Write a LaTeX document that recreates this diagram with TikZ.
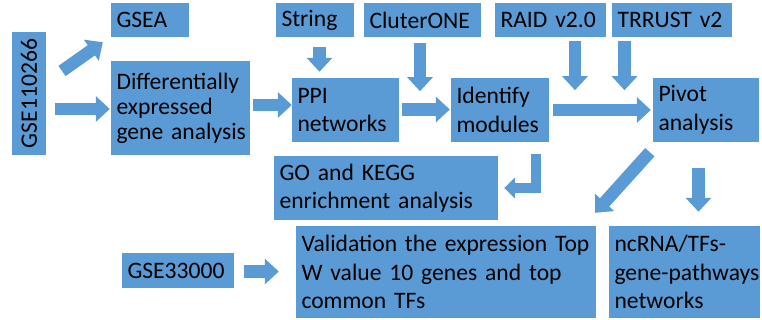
\documentclass[tikz,border=0pt]{standalone}
\usepackage{fontspec}
\setmainfont{Carlito}
\usetikzlibrary{arrows.meta}
\definecolor{boxblue}{RGB}{91,155,213}
\begin{document}
\begin{tikzpicture}[x=1pt,y=-1pt,
  box/.style={fill=boxblue, inner xsep=5.5pt, inner ysep=0pt, align=left,
    font=\fontsize{23.6}{28.5}\selectfont, text=black},
  blk/.style={draw=boxblue, line width=12.5pt, -{Triangle[width=25pt,length=14pt]}},
  bent/.style={draw=boxblue, line width=10.5pt, line join=miter, -{Triangle[width=21pt,length=11pt]}},
]
\useasboundingbox (0,0) rectangle (762,320);
% boxes
\node[box, rotate=90, minimum width=123pt, minimum height=34pt, align=center] (gse1) at (29,93.5) {GSE110266};
\node[box, minimum width=78pt, minimum height=34pt, text width=67pt] (gsea) at (150,20) {GSEA};
\node[box, minimum width=139pt, minimum height=94pt, text width=128pt, font=\fontsize{23.6}{25}\selectfont] (diff) at (180.5,108) {\mbox{Differentially}\\\mbox{expressed}\\\mbox{gene analysis}};
\node[box, minimum width=78pt, minimum height=34pt, text width=67pt] (string) at (315,20) {String};
\node[box, minimum width=117pt, minimum height=34pt, text width=106pt] (cluter) at (422.5,20) {CluterONE};
\node[box, minimum width=111pt, minimum height=34pt, text width=100pt] (raid) at (550.5,20) {\mbox{RAID v2.0}};
\node[box, minimum width=120pt, minimum height=34pt, text width=109pt] (trrust) at (672,20) {\mbox{TRRUST v2}};
\node[box, minimum width=107pt, minimum height=64pt, text width=96pt] (ppi) at (345.5,110) {PPI\\networks};
\node[box, minimum width=98pt, minimum height=64pt, text width=87pt] (ident) at (500,110) {Identify\\modules};
\node[box, minimum width=106pt, minimum height=64pt, text width=95pt] (pivot) at (706,110) {Pivot\\analysis};
\node[box, minimum width=224pt, minimum height=64pt, text width=213pt] (go) at (386,188) {\mbox{GO and KEGG}\\\mbox{enrichment analysis}};
\node[box, minimum width=112pt, minimum height=35pt, text width=101pt] (gse33) at (178,270.5) {GSE33000};
\node[box, minimum width=300pt, minimum height=92pt, text width=289pt] (valid) at (446,272) {\mbox{Validation the expression Top}\\\mbox{W value 10 genes and top}\\\mbox{common TFs}};
\node[box, minimum width=151pt, minimum height=92pt, text width=140pt] (ncrna) at (684.5,272) {\mbox{ncRNA/TFs-}\\\mbox{gene-pathways}\\networks};
% arrows
\draw[blk] ([shift={(33,-22.5)}]gse1.center) -- ([shift={(-8,5)}]gsea.south west);
\draw[blk] ([shift={(26,15.5)}]gse1.center) -- ([shift={(-1,1)}]diff.west);
\draw[blk] ([shift={(3,-3)}]diff.east) -- ([shift={(0,-5)}]ppi.west);
\draw[blk] ([shift={(4.5,10)}]string.south) -- ([shift={(-26,-6)}]ppi.north);
\coordinate (cl) at ([shift={(-2.5,54)}]cluter.south);
\draw[blk] ([shift={(-2.5,6)}]cluter.south) -- (cl);
\draw[blk] ([shift={(3,-0.5)}]ppi.east) -- ([shift={(-1,-0.5)}]ident.west);
\coordinate (ra) at ([shift={(24.5,53)}]raid.south);
\draw[blk] ([shift={(24.5,4)}]raid.south) -- (ra);
\coordinate (tr) at ([shift={(-47.5,53)}]trrust.south);
\draw[blk] ([shift={(-47.5,4)}]trrust.south) -- (tr);
\draw[blk] ([shift={(4,0)}]ident.east) -- ([shift={(-2,0)}]pivot.west);
\draw[blk] ([shift={(-3,10)}]pivot.south west) -- ([shift={(-1,-13)}]valid.north east);
\draw[blk] ([shift={(-7.5,26)}]pivot.south) -- ([shift={(14,-14)}]ncrna.north);
\draw[blk] ([shift={(10,1)}]gse33.east) -- ([shift={(-17,-0.5)}]valid.west);
\draw[bent] ([shift={(-13,12)}]ident.south east) |- ([xshift=6pt]go.east);
\end{tikzpicture}
\end{document}
